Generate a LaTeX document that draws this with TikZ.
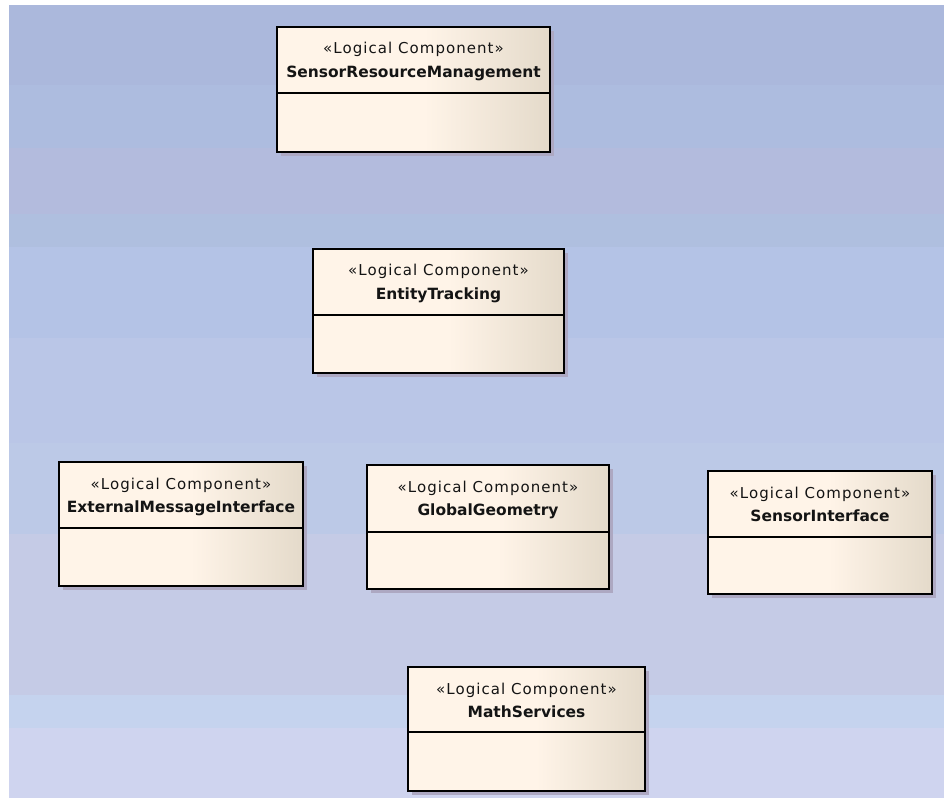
\documentclass[tikz,border=0pt]{standalone}
\usepackage{fontspec}
\setmainfont{DejaVu Sans}
\newfontfamily\stereofont{DejaVu Sans}[LetterSpace=7]
\usetikzlibrary{calc}

% canvas bands, top to bottom
\definecolor{bandA}{HTML}{ABB8DC}
\definecolor{bandB}{HTML}{ADBCDF}
\definecolor{bandC}{HTML}{B3BBDD}
\definecolor{bandD}{HTML}{AFBFDF}
\definecolor{bandE}{HTML}{B4C3E6}
\definecolor{bandF}{HTML}{BAC6E7}
\definecolor{bandG}{HTML}{BCC9E7}
\definecolor{bandH}{HTML}{C5CBE6}
\definecolor{bandI}{HTML}{C5D3EE}
\definecolor{bandJ}{HTML}{CFD4EF}
% component colours
\definecolor{creamL}{HTML}{FFF4E8}
\definecolor{creamR}{HTML}{E4DACA}
\definecolor{inkc}{HTML}{141414}
\definecolor{shadowc}{HTML}{ADA8C2}

\pgfdeclarehorizontalshading{creamfill}{100bp}{color(0bp)=(creamL); color(25bp)=(creamL); color(52bp)=(creamL); color(75bp)=(creamR); color(100bp)=(creamR)}

\tikzset{
  compbox/.style={draw=black, line width=1.5pt, shading=creamfill, rectangle, inner sep=0pt, anchor=north west},
  divider/.style={line width=1.5pt},
  stereo/.style={anchor=base, inner sep=0pt, text=inkc, font=\stereofont\fontsize{11.25}{13}\selectfont},
  compname/.style={anchor=base, inner sep=0pt, text=inkc, font=\bfseries\fontsize{11.6}{14}\selectfont},
  shadowbox/.style={fill=shadowc, draw=none},
}

% #1 node name, #2/#3 top-left corner, #4/#5 bottom-right corner, #6 compartment line offset, #7 title
\newcommand\umlcomp[7]{%
  \fill[shadowbox] (#2+5,#3+5) rectangle (#4+5,#5+5);
  \node[compbox, minimum width={(#4-#2)*0.75pt}, minimum height={(#5-#3)*0.75pt}] (#1) at (#2,#3) {};
  \draw[divider] ($(#1.north west)+(0,#6)$) -- ($(#1.north east)+(0,#6)$);
  \node[stereo] (#1-st) at ($(#1.north)+(0,28)$) {«Logical Component»};
  \node[compname] (#1-nm) at ($(#1.north)+(0,51.5)$) {#7};
}

\begin{document}
\begin{tikzpicture}[x=0.75pt, y=-0.75pt]
  \useasboundingbox (0,0) rectangle (944,798);
  \fill[white] (0,0) rectangle (944,798);
  % banded canvas
  \fill[bandA] (9,5) rectangle (944,85);
  \fill[bandB] (9,85) rectangle (944,148);
  \fill[bandC] (9,148) rectangle (944,214);
  \fill[bandD] (9,214) rectangle (944,247);
  \fill[bandE] (9,247) rectangle (944,338);
  \fill[bandF] (9,338) rectangle (944,443);
  \fill[bandG] (9,443) rectangle (944,534);
  \fill[bandH] (9,534) rectangle (944,695);
  \fill[bandI] (9,695) rectangle (944,728);
  \fill[bandJ] (9,728) rectangle (944,798);

  \umlcomp{srm}{276}{26}{549}{151}{67}{SensorResourceManagement}
  \umlcomp{et}{312}{248}{563}{372}{67}{EntityTracking}
  \umlcomp{emi}{58}{461}{302}{585}{67}{ExternalMessageInterface}
  \umlcomp{gg}{366}{464}{608}{588}{68}{GlobalGeometry}
  \umlcomp{si}{707}{470}{931}{593}{67}{SensorInterface}
  \umlcomp{ms}{407}{666}{644}{790}{66}{MathServices}
\end{tikzpicture}
\end{document}
